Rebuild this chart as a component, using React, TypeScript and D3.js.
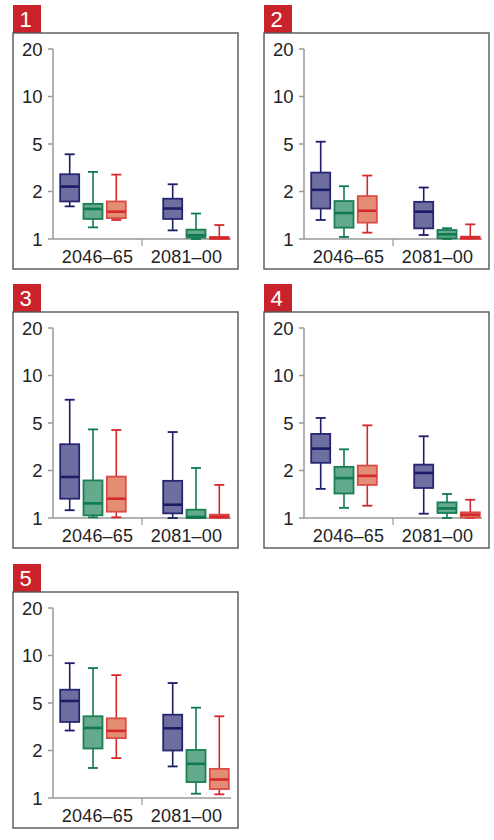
import React from "react";
import * as d3 from "d3";

const groups = ["2046–65", "2081–00"];
const seriesNames = ["s1", "s2", "s3"];
const yTicks = [1, 2, 5, 10, 20];
const panelLabels = ["1", "2", "3", "4", "5"];

// rows: [group, series, min, q1, median, q3, max]
const panel1 = [
  ["2046–65", "s1", 1.61, 1.73, 2.2, 2.79, 4.1],
  ["2046–65", "s2", 1.185, 1.34, 1.55, 1.67, 2.92],
  ["2046–65", "s3", 1.32, 1.357, 1.49, 1.73, 2.77],
  ["2081–00", "s1", 1.134, 1.34, 1.56, 1.8, 2.3],
  ["2081–00", "s2", 1.0, 1.02, 1.055, 1.146, 1.45],
  ["2081–00", "s3", 1.0, 1.0, 1.015, 1.03, 1.226],
];
const panel2 = [
  ["2046–65", "s1", 1.32, 1.56, 2.065, 2.88, 5.17],
  ["2046–65", "s2", 1.03, 1.18, 1.46, 1.74, 2.215],
  ["2046–65", "s3", 1.097, 1.27, 1.51, 1.87, 2.72],
  ["2081–00", "s1", 1.06, 1.168, 1.49, 1.72, 2.16],
  ["2081–00", "s2", 1.0, 1.01, 1.07, 1.14, 1.17],
  ["2081–00", "s3", 1.0, 1.0, 1.02, 1.035, 1.238],
];
const panel3 = [
  ["2046–65", "s1", 1.12, 1.325, 1.82, 3.32, 7.02],
  ["2046–65", "s2", 1.01, 1.04, 1.238, 1.73, 4.42],
  ["2046–65", "s3", 1.01, 1.097, 1.325, 1.83, 4.37],
  ["2081–00", "s1", 1.0, 1.07, 1.214, 1.72, 4.2],
  ["2081–00", "s2", 1.0, 1.0, 1.015, 1.129, 2.1],
  ["2081–00", "s3", 1.0, 1.0, 1.02, 1.05, 1.62],
];
const panel4 = [
  ["2046–65", "s1", 1.53, 2.32, 3.05, 4.05, 5.38],
  ["2046–65", "s2", 1.16, 1.43, 1.79, 2.146, 3.01],
  ["2046–65", "s3", 1.196, 1.62, 1.85, 2.2, 4.78],
  ["2081–00", "s1", 1.065, 1.55, 1.93, 2.24, 3.87],
  ["2081–00", "s2", 1.0, 1.075, 1.15, 1.256, 1.42],
  ["2081–00", "s3", 1.0, 1.01, 1.05, 1.086, 1.305],
];
const panel5 = [
  ["2046–65", "s1", 2.94, 3.47, 5.15, 6.07, 8.94],
  ["2046–65", "s2", 1.55, 2.08, 3.09, 3.87, 8.32],
  ["2046–65", "s3", 1.79, 2.54, 2.92, 3.72, 7.51],
  ["2081–00", "s1", 1.585, 2.0, 3.07, 3.99, 6.69],
  ["2081–00", "s2", 1.065, 1.262, 1.647, 2.02, 4.57],
  ["2081–00", "s3", 1.055, 1.14, 1.31, 1.53, 3.87],
];
const panels = [panel1, panel2, panel3, panel4, panel5];

const strokeColors: Record<string, string> = { s1: "#1c1c68", s2: "#0f7a4f", s3: "#d4282d" };
const fillColors: Record<string, string> = { s1: "#6e6ea1", s2: "#64aa8d", s3: "#e38d74" };
const boxStroke: Record<string, string> = { s1: "#262672", s2: "#1a7f55", s3: "#dc4b47" };

const FONT = "'Liberation Sans', Arial, sans-serif";
const PW = 225;
const PH = 236;
const origins = [
  [13, 33],
  [264, 33],
  [13, 312],
  [264, 312],
  [13, 592],
];

const y = d3.scaleLog().domain(yTicks).range([206, 158.5, 111, 63.5, 16]);
const axisBand = d3.scaleBand<string>().domain(groups).range([40, 218]);
const boxGroup = d3.scaleBand<string>().domain(groups).range([28.5, 234.5]);
const inner = d3.scalePoint<string>().domain(seriesNames).range([-23.3, 23.3]);
const BW = 19;
const CAP = 10;

function Panel({ data, label, ox, oy }: { data: any[]; label: string; ox: number; oy: number }) {
  return (
    <g transform={`translate(${ox},${oy})`}>
      <rect x={0} y={-28} width={28} height={28} fill="#c9222a" />
      <text x={6.5} y={-6} fill="#fff" fontSize={22} fontFamily={FONT}>{label}</text>
      <rect x={0} y={0} width={PW} height={PH} fill="none" stroke="#555" strokeWidth={1.4} />
      {/* y axis */}
      <line x1={40} x2={40} y1={y(20)} y2={y(1)} stroke="#999" strokeWidth={1.5} />
      {yTicks.map((t) => (
        <g key={t}>
          <line x1={35} x2={40} y1={y(t)} y2={y(t)} stroke="#999" strokeWidth={1.5} />
          <text x={29.5} y={y(t)} dy="0.36em" textAnchor="end" fontSize={18.5} fontFamily={FONT} fill="#222">
            {t}
          </text>
        </g>
      ))}
      {/* x axis */}
      <line x1={40} x2={218} y1={y(1)} y2={y(1)} stroke="#999" strokeWidth={1.5} />
      <line x1={axisBand(groups[1])!} x2={axisBand(groups[1])!} y1={y(1)} y2={y(1) + 7} stroke="#999" strokeWidth={1.2} />
      {groups.map((g) => (
        <text key={g} x={axisBand(g)! + axisBand.bandwidth() / 2} y={229.5} textAnchor="middle" fontSize={18} fontFamily={FONT} fill="#222" letterSpacing={0.2}>
          {g}
        </text>
      ))}
      {data.map((r: any[], i: number) => {
        const [g, s, mn, q1, md, q3, mx] = r;
        const cx = boxGroup(g)! + boxGroup.bandwidth() / 2 + inner(s)!;
        const sc = strokeColors[s];
        return (
          <g key={i}>
            <line x1={cx} x2={cx} y1={y(mx)} y2={y(q3)} stroke={sc} strokeWidth={1.6} />
            <line x1={cx} x2={cx} y1={y(q1)} y2={y(mn)} stroke={sc} strokeWidth={1.6} />
            <line x1={cx - CAP / 2} x2={cx + CAP / 2} y1={y(mx)} y2={y(mx)} stroke={sc} strokeWidth={1.8} />
            <line x1={cx - CAP / 2} x2={cx + CAP / 2} y1={y(mn)} y2={y(mn)} stroke={sc} strokeWidth={1.8} />
            <rect x={cx - BW / 2} y={y(q3)} width={BW} height={Math.max(0.5, y(q1) - y(q3))} fill={fillColors[s]} stroke={boxStroke[s]} strokeWidth={1.8} />
            <line x1={cx - BW / 2} x2={cx + BW / 2} y1={y(md)} y2={y(md)} stroke={sc} strokeWidth={2.6} />
          </g>
        );
      })}
    </g>
  );
}

export default function App() {
  return (
    <svg width={494} height={840} style={{ position: "absolute", left: 0, top: 0, background: "#fff" }}>
      <rect width={494} height={840} fill="#fff" />
      {panels.map((p, i) => (
        <Panel key={i} data={p} label={panelLabels[i]} ox={origins[i][0]} oy={origins[i][1]} />
      ))}
    </svg>
  );
}
